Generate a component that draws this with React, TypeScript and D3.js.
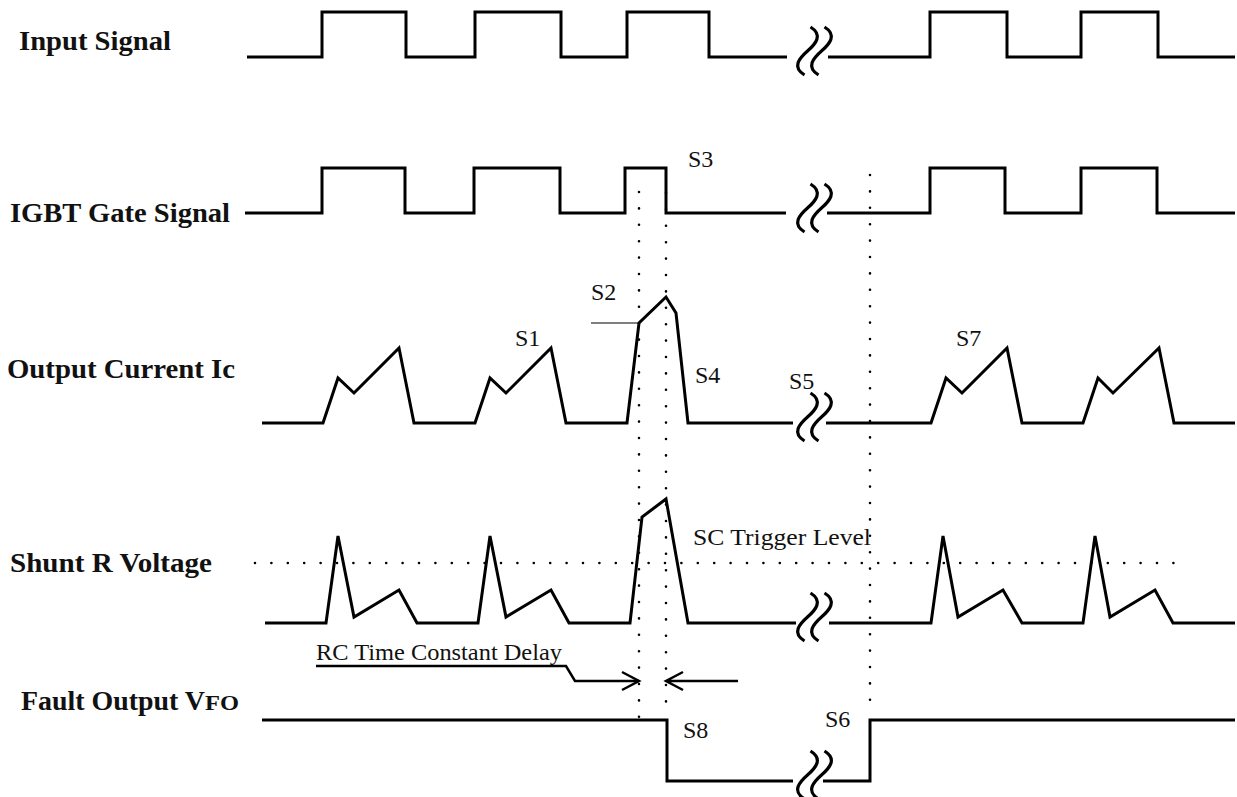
import React from 'react';
import * as d3 from 'd3';

// ---------------- data (time units, signal levels) ----------------
type Pt = [number, number];
const inputSegA: Pt[] = [[2, 0], [77, 1], [161, 0], [230, 1], [316, 0], [382, 1], [464, 0], [542, 0]];
const inputSegB: Pt[] = [[583, 0], [685, 1], [762, 0], [836, 1], [913, 0], [990, 0]];
const gateSegA: Pt[] = [[0, 0], [77, 1], [160, 0], [229, 1], [315, 0], [380, 1], [421, 0], [541, 0]];
const gateSegB: Pt[] = [[582, 0], [685, 1], [760, 0], [836, 1], [912, 0], [990, 0]];
const currentSegA: Pt[] = [[17, 0], [78, 0], [93, 45], [109, 30], [154, 75], [169, 0], [230, 0], [245, 45], [261, 30], [306, 75], [321, 0], [382, 0], [394, 100], [421, 126], [431, 110], [443, 0], [548, 0]];
const currentSegB: Pt[] = [[581, 0], [686, 0], [701, 45], [717, 30], [762, 75], [777, 0], [838, 0], [853, 45], [868, 30], [914, 75], [929, 0], [990, 0]];
const shuntSegA: Pt[] = [[20, 0], [81, 0], [93, 87], [109, 6], [154, 33], [172, 0], [233, 0], [245, 87], [261, 6], [306, 33], [324, 0], [385, 0], [397, 106], [421, 124], [443, 0], [551, 0]];
const shuntSegB: Pt[] = [[584, 0], [686, 0], [698, 87], [713, 6], [758, 33], [777, 0], [838, 0], [850, 87], [865, 6], [910, 33], [928, 0], [990, 0]];
const faultSegA: Pt[] = [[17, 1], [422, 0], [548, 0]];
const faultSegB: Pt[] = [[578, 0], [625, 1], [990, 1]];
const triggerLevel = 60;
const triggerSpan: [number, number] = [10, 930];
const s2Level = 100;
const s2Span: [number, number] = [346, 394];
const markerTimes = [394, 421, 625];
const breakTime = 569.5;
const rowLabels = ['Input Signal', 'IGBT Gate Signal', 'Output Current Ic', 'Shunt R Voltage', 'Fault Output V'];
const eventLabels = ['S1', 'S2', 'S3', 'S4', 'S5', 'S6', 'S7', 'S8'];

// ---------------- layout ----------------
const W = 1237, H = 797;
const FONT = "Liberation Serif";
const x = d3.scaleLinear().domain([0, 990]).range([245, 1235]);
const yInput = d3.scaleLinear().domain([0, 1]).range([57, 12]);
const yGate = d3.scaleLinear().domain([0, 1]).range([213, 168]);
const yCurrent = d3.scaleLinear().domain([0, 126]).range([423, 297]);
const yShunt = d3.scaleLinear().domain([0, 124]).range([623, 499]);
const yFault = d3.scaleLinear().domain([0, 1]).range([781, 720]);

const rowLabelPos = [
  { x: 19, y: 50, len: 152 },
  { x: 10, y: 222, len: 220 },
  { x: 7, y: 378, len: 228 },
  { x: 10, y: 572, len: 202 },
  { x: 21, y: 710, len: 184 },
];
const eventLabelPos: Record<string, [number, number]> = {
  S1: [515, 346], S2: [591, 300], S3: [688, 167], S4: [695, 383],
  S5: [789, 389], S6: [825, 727], S7: [956, 346], S8: [683, 738],
};
const markerSpans: [number, number][] = [[192, 726], [193, 703], [175, 703]];
const breakYs = [51, 208, 417, 617, 775];

const stepLine = (ys: d3.ScaleLinear<number, number>) =>
  d3.line<Pt>().x(d => x(d[0])).y(d => ys(d[1])).curve(d3.curveStepAfter);
const polyLine = (ys: d3.ScaleLinear<number, number>) =>
  d3.line<Pt>().x(d => x(d[0])).y(d => ys(d[1]));

const strokeStyle = { fill: 'none', stroke: '#000', strokeWidth: 3, strokeLinejoin: 'miter' as const };
const dotStyle = { fill: 'none', stroke: '#000', strokeWidth: 2.6, strokeLinecap: 'round' as const, strokeDasharray: '0 16.4' };

function BreakMark({ cx, cy }: { cx: number; cy: number }) {
  const s = (ox: number) =>
    `M ${ox + 3} ${cy - 24} C ${ox + 16} ${cy - 16} ${ox + 8} ${cy - 7} ${ox} ${cy} C ${ox - 8} ${cy + 7} ${ox - 16} ${cy + 16} ${ox - 3} ${cy + 24}`;
  return (
    <g>
      <path d={s(cx - 7)} fill="none" stroke="#000" strokeWidth={3.2} />
      <path d={s(cx + 7)} fill="none" stroke="#000" strokeWidth={3.2} />
    </g>
  );
}

export default function App() {
  const bx = x(breakTime);
  const arrowY = 681;
  const mA = x(markerTimes[0]);
  const mB = x(markerTimes[1]);
  return (
    <svg width={W} height={H} style={{ position: 'absolute', left: 0, top: 0, background: '#fff' }}>
      <rect width={W} height={H} fill="#fff" />
      {/* row labels */}
      {rowLabels.map((t, i) => (
        <text key={t} x={rowLabelPos[i].x} y={rowLabelPos[i].y} fontFamily={FONT} fontWeight="bold" fontSize={28}
          textLength={rowLabelPos[i].len} lengthAdjust="spacingAndGlyphs" fill="#111">{t}</text>
      ))}
      <text x={205} y={710} fontFamily={FONT} fontWeight="bold" fontSize={22} textLength={34} lengthAdjust="spacingAndGlyphs" fill="#111">FO</text>

      {/* marker dotted lines */}
      {markerTimes.map((t, i) => (
        <line key={i} x1={x(t)} x2={x(t)} y1={markerSpans[i][0]} y2={markerSpans[i][1]} style={dotStyle} />
      ))}
      {/* trigger level */}
      <line x1={x(triggerSpan[0])} x2={x(triggerSpan[1])} y1={yShunt(triggerLevel)} y2={yShunt(triggerLevel)} style={dotStyle} />
      {/* S2 reference */}
      <line x1={x(s2Span[0])} x2={x(s2Span[1])} y1={yCurrent(s2Level)} y2={yCurrent(s2Level)} stroke="#555" strokeWidth={1.5} />

      {/* waveforms */}
      <path d={stepLine(yInput)(inputSegA)!} style={strokeStyle} />
      <path d={stepLine(yInput)(inputSegB)!} style={strokeStyle} />
      <path d={stepLine(yGate)(gateSegA)!} style={strokeStyle} />
      <path d={stepLine(yGate)(gateSegB)!} style={strokeStyle} />
      <path d={polyLine(yCurrent)(currentSegA)!} style={strokeStyle} />
      <path d={polyLine(yCurrent)(currentSegB)!} style={strokeStyle} />
      <path d={polyLine(yShunt)(shuntSegA)!} style={strokeStyle} />
      <path d={polyLine(yShunt)(shuntSegB)!} style={strokeStyle} />
      <path d={stepLine(yFault)(faultSegA)!} style={strokeStyle} />
      <path d={stepLine(yFault)(faultSegB)!} style={strokeStyle} />

      {breakYs.map((cy, i) => <BreakMark key={i} cx={bx} cy={cy} />)}

      {/* RC delay annotation */}
      <text x={316} y={660} fontFamily={FONT} fontSize={24} textLength={246} lengthAdjust="spacingAndGlyphs" fill="#111">RC Time Constant Delay</text>
      <path d={`M 316 666 L 566 666 L 575 ${arrowY} L ${mA} ${arrowY}`} fill="none" stroke="#000" strokeWidth={2.5} />
      <path d={`M ${mA - 17} ${arrowY - 9} L ${mA} ${arrowY} L ${mA - 17} ${arrowY + 9}`} fill="none" stroke="#000" strokeWidth={2.5} />
      <path d={`M ${mB + 17} ${arrowY - 9} L ${mB} ${arrowY} L ${mB + 17} ${arrowY + 9} M ${mB} ${arrowY} L 738 ${arrowY}`} fill="none" stroke="#000" strokeWidth={2.5} />

      <text x={693} y={545} fontFamily={FONT} fontSize={24} textLength={178} lengthAdjust="spacingAndGlyphs" fill="#111">SC Trigger Level</text>

      {eventLabels.map(l => (
        <text key={l} x={eventLabelPos[l][0]} y={eventLabelPos[l][1]} fontFamily={FONT} fontSize={24} fill="#111">{l}</text>
      ))}
    </svg>
  );
}
